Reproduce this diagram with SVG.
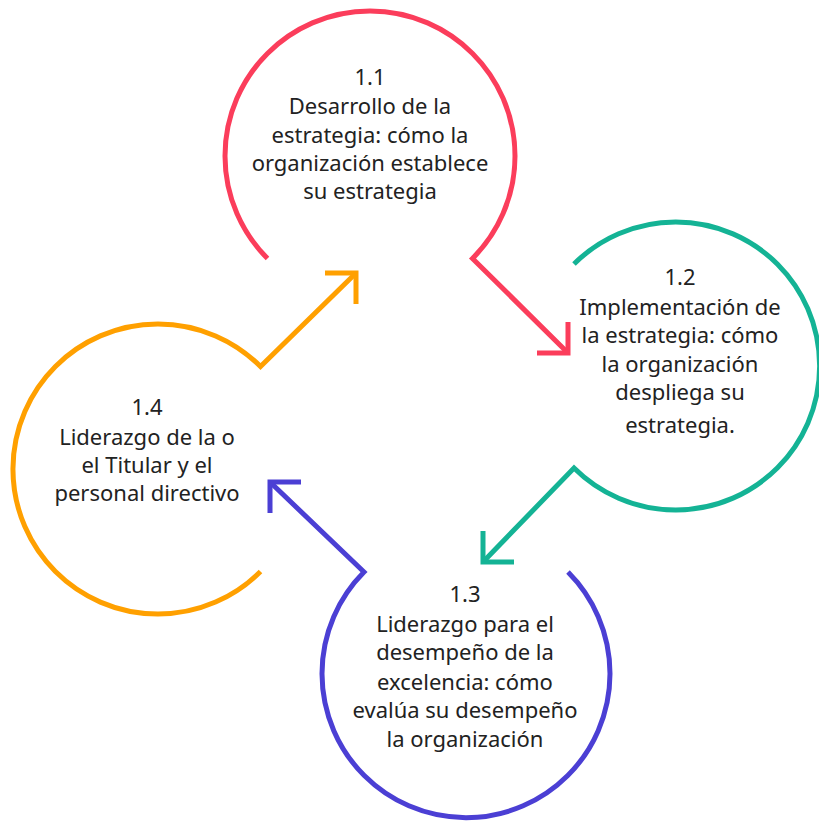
<svg xmlns="http://www.w3.org/2000/svg" width="819" height="823" viewBox="0 0 819 823">
<style>
.ring{fill:none;stroke-width:5;stroke-linejoin:miter;stroke-linecap:butt}
.head{fill:none;stroke-width:5;stroke-linejoin:miter;stroke-linecap:butt}
.lbl{font-family:"Noto Sans","Open Sans","DejaVu Sans",sans-serif;font-size:22px;fill:#222;text-anchor:middle}
</style>
<rect width="819" height="823" fill="#fff"/>
<g id="connectors">
<path class="ring" stroke="#FB3D5B" d="M267.5,258.5 A145,145 0 1 1 472.5,258.5 L568,353"/>
<path class="head" stroke="#FB3D5B" d="M568,322 L568,353 L537,353"/>
<path class="ring" stroke="#14B395" d="M574,264 A144,144 0 1 1 574,468 L483,562"/>
<path class="head" stroke="#14B395" d="M483,531 L483,562 L514,562"/>
<path class="ring" stroke="#4B3FD4" d="M568,572 A144,144 0 1 1 364,572 L270,482"/>
<path class="head" stroke="#4B3FD4" d="M270,513 L270,482 L301,482"/>
<path class="ring" stroke="#FFA000" d="M260.5,571.5 A145,145 0 1 1 260.5,366.5 L356,273"/>
<path class="head" stroke="#FFA000" d="M325,273 L356,273 L356,304"/>
</g>
<g id="node-1-1">
<text class="lbl" x="370" y="85">1.1</text>
<text class="lbl" x="370" y="114">Desarrollo de la</text>
<text class="lbl" x="370" y="143">estrategia: cómo la</text>
<text class="lbl" x="370" y="171">organización establece</text>
<text class="lbl" x="370" y="199">su estrategia</text>
</g>
<g id="node-1-2">
<text class="lbl" x="680" y="285">1.2</text>
<text class="lbl" x="680" y="315">Implementación de</text>
<text class="lbl" x="680" y="343">la estrategia: cómo</text>
<text class="lbl" x="680" y="372">la organización</text>
<text class="lbl" x="680" y="400">despliega su</text>
<text class="lbl" x="680" y="433">estrategia.</text>
</g>
<g id="node-1-3">
<text class="lbl" x="465" y="602">1.3</text>
<text class="lbl" x="465" y="632">Liderazgo para el</text>
<text class="lbl" x="465" y="660">desempeño de la</text>
<text class="lbl" x="465" y="690">excelencia: cómo</text>
<text class="lbl" x="465" y="718">evalúa su desempeño</text>
<text class="lbl" x="465" y="747">la organización</text>
</g>
<g id="node-1-4">
<text class="lbl" x="147" y="415">1.4</text>
<text class="lbl" x="147" y="445">Liderazgo de la o</text>
<text class="lbl" x="147" y="473">el Titular y el</text>
<text class="lbl" x="147" y="501">personal directivo</text>
</g>
</svg>
